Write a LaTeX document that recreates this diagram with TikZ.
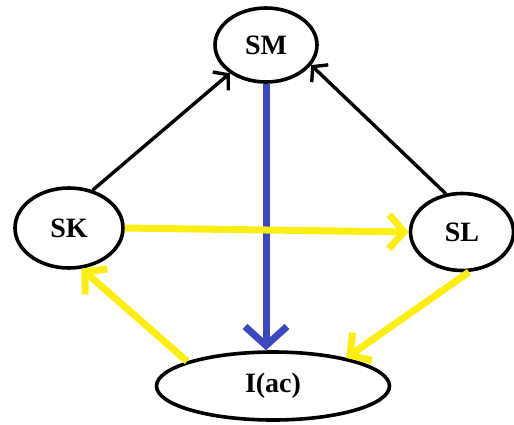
\documentclass[tikz,border=0pt]{standalone}
\usepackage{fontspec}
\setmainfont{Liberation Serif}
\usetikzlibrary{arrows.meta,shapes.geometric}
\definecolor{flowyellow}{RGB}{252,238,20}
\definecolor{flowblue}{RGB}{62,72,190}

\begin{document}
\begin{tikzpicture}
[
    x=1pt, y=-1pt,
    state/.style={draw, ellipse, line width=3.6pt, inner sep=0pt, font=\bfseries\fontsize{28}{32}\selectfont},
    blackedge/.style={line width=3.4pt, -{Straight Barb[length=10pt, width=24pt]}},
    yellowedge/.style={draw=flowyellow, line width=7pt, -{Straight Barb[length=15pt, width=34pt]}},
    blueedge/.style={draw=flowblue, line width=7pt, -{Straight Barb[length=19pt, width=42pt]}},
]
\useasboundingbox (0,0) rectangle (514,424);

\node [state, minimum width=102pt, minimum height=74pt] (sm) at (266,45) {SM};
\node [state, minimum width=108pt, minimum height=80pt] (sk) at (69,228) {SK};
\node [state, minimum width=103pt, minimum height=77pt] (sl) at (462,232) {SL};
\node [state, minimum width=233pt, minimum height=68pt] (iac) at (273,386) {I(ac)};

\draw [blackedge] (sk.58) -- (sm.218);
\draw [blackedge] (sl.113) -- (sm.336);
\draw [blueedge] (sm.south) -- (sm.south |- iac.north);
\draw [yellowedge] (sk.east) -- (sl.west);
\draw [yellowedge] (iac.164) -- (sk.287);
\draw [yellowedge] (sl.280) -- (iac.21);
\end{tikzpicture}
\end{document}
